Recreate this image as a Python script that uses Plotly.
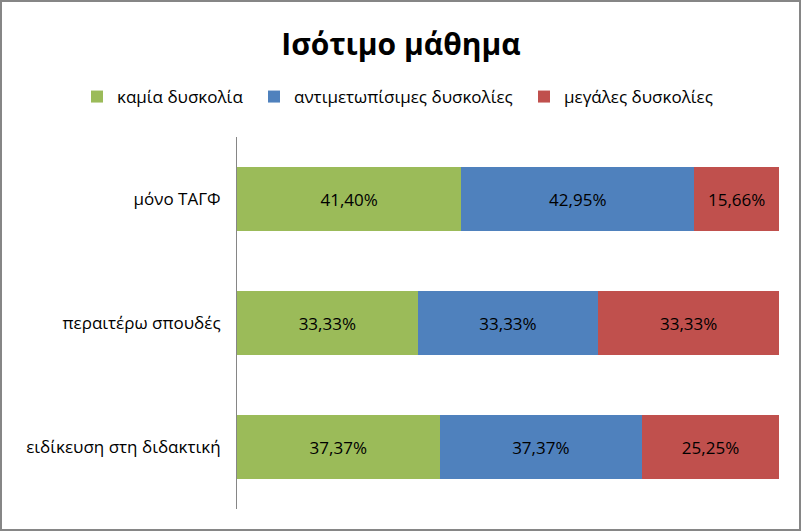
import plotly.graph_objects as go

categories = ["μόνο ΤΑΓΦ", "περαιτέρω σπουδές", "ειδίκευση στη διδακτική"]
no_difficulty = [41.40, 33.33, 37.37]
manageable = [42.95, 33.33, 37.37]
major = [15.66, 33.33, 25.25]

series = [
    ("καμία δυσκολία", no_difficulty, "#9BBB59", 132),
    ("αντιμετωπίσιμες δυσκολίες", manageable, "#4F81BD", 225),
    ("μεγάλες δυσκολίες", major, "#C0504D", 150),
]

FONT = "Open Sans"
FS = 17

fig = go.Figure()
for name, vals, color, lw in series:
    fig.add_trace(go.Bar(
        y=categories, x=vals, name=name, orientation="h",
        marker=dict(color=color, line=dict(width=0)),
        text=[f"{v:.2f}%".replace(".", ",") for v in vals],
        textposition="inside", insidetextanchor="middle", textangle=0,
        insidetextfont=dict(family=FONT, size=FS, color="black"),
        legendwidth=lw,
    ))

W, H = 802, 532
ml, mr, mt, mb = 237, 23, 137, 23
pw, ph = W - ml - mr, H - mt - mb

fig.update_layout(
    width=W, height=H,
    margin=dict(l=ml, r=mr, t=mt, b=mb),
    barmode="stack", bargap=0.48,
    plot_bgcolor="white", paper_bgcolor="white",
    font=dict(family=FONT, size=FS, color="black"),
    title=dict(text="<b>Ισότιμο μάθημα</b>", x=0.5, xanchor="center",
               y=1 - 44 / H, yanchor="middle",
               font=dict(family=FONT, size=30, color="black")),
    legend=dict(orientation="h", x=(77 - ml) / pw, xanchor="left",
                y=1 + (mt - 97) / ph, yanchor="middle",
                font=dict(family=FONT, size=FS), traceorder="normal",
                itemwidth=30),
    showlegend=True,
)
fig.update_xaxes(range=[0, 100], visible=False, showgrid=False)
fig.update_yaxes(autorange="reversed", showline=True, linecolor="#868686",
                 linewidth=1, showgrid=False, ticks="", ticklabelstandoff=12,
                 tickfont=dict(family=FONT, size=FS, color="black"))

# chart border
fig.add_shape(type="rect", xref="paper", yref="paper",
              x0=-(ml - 1) / pw, x1=1 + (mr - 2) / pw,
              y0=-(mb - 2) / ph, y1=1 + (mt - 1) / ph,
              line=dict(color="#868686", width=2))

fig.write_html("out.html", config={"displayModeBar": False},
               post_script="document.body.style.margin='0';")
